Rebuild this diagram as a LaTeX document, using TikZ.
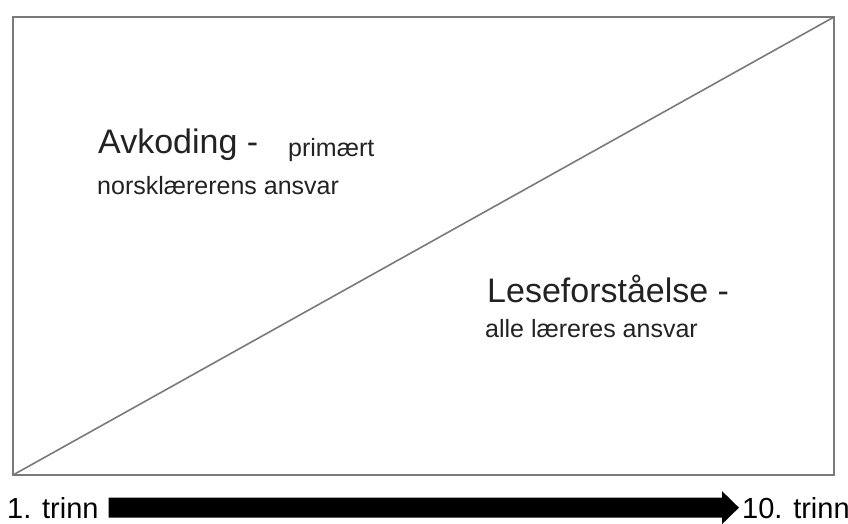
\documentclass[tikz,border=0pt]{standalone}
\usepackage{fontspec}
\setmainfont{Liberation Sans}
\usetikzlibrary{arrows.meta}
\definecolor{txt}{HTML}{222222}
\definecolor{frame}{HTML}{7A7A7A}
\begin{document}
\begin{tikzpicture}[x=1pt,y=-1pt,
    big/.style={anchor=base west, inner sep=0pt, text=txt, font=\fontsize{34}{40}\selectfont},
    small/.style={anchor=base west, inner sep=0pt, text=txt, font=\fontsize{25}{30}\selectfont},
    trinn/.style={anchor=base west, inner sep=0pt, text=black, font=\fontsize{29}{34}\selectfont}]
   \useasboundingbox (0,0) rectangle (848,523);
   \coordinate (sw) at (13,475);
   \coordinate (ne) at (834,17);
   \draw[frame, line width=1.6pt] (sw) rectangle (ne);
   \draw[frame, line width=1.6pt] (sw) -- (ne);

   % upper left half
   \node[big] (avk) at (98,153) {Avkoding -};
   \node[small] (prim) at (288,156) {primært};
   \node[small] (norsk) at (97,194) {norsklærerens ansvar};

   % lower right half
   \node[big] (lese) at (487,302) {Leseforståelse -};
   \node[small] (alle) at (485,337) {alle læreres ansvar};

   % steps
   \node[trinn] (forste) at (7,518) {1. trinn};
   \node[trinn] (tiende) at (742,518) {10. trinn};
   \draw[line width=20pt, -{Triangle[length=17pt,width=32pt]}]
      ([xshift=10pt]forste.east) -- ([xshift=-3pt]tiende.west);
\end{tikzpicture}
\end{document}
